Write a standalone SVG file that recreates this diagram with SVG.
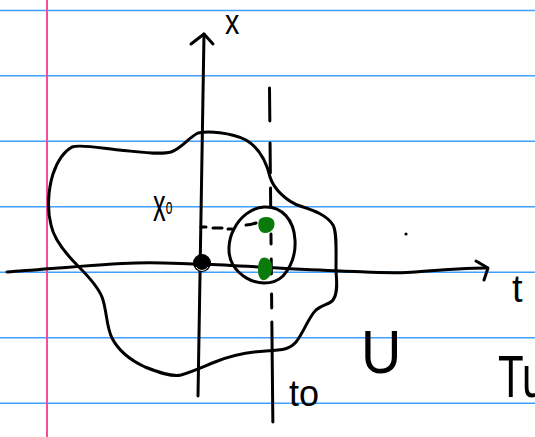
<svg xmlns="http://www.w3.org/2000/svg" width="535" height="437" viewBox="0 0 535 437">
<style>
.rule{stroke:#3fa0ff;stroke-width:1.6}
.ink{fill:none;stroke:#000;stroke-width:3;stroke-linecap:round;stroke-linejoin:round}
.lbl{font-family:"Liberation Sans","DejaVu Sans",sans-serif;fill:#000}
.green{fill:#0a7a0a}
</style>
<rect width="535" height="437" fill="#fff"/>
<g id="paper">
<line class="rule" x1="0" y1="10.5" x2="535" y2="10.5"/>
<line class="rule" x1="0" y1="75.8" x2="535" y2="75.8"/>
<line class="rule" x1="0" y1="141.2" x2="535" y2="141.2"/>
<line class="rule" x1="0" y1="206.8" x2="535" y2="206.8"/>
<line class="rule" x1="0" y1="272.3" x2="535" y2="272.3"/>
<line class="rule" x1="0" y1="337.8" x2="535" y2="337.8"/>
<line class="rule" x1="0" y1="403.3" x2="535" y2="403.3"/>
<line x1="47" y1="0" x2="47" y2="437" stroke="#f0509a" stroke-width="2"/>
</g>
<g id="region-U">
<path class="ink" d="M198,133 C208,131 230,132 246,140 C258,147 266,160 270,177 C274,190 288,202 300,206 C312,210 326,214 333,225 C337,232 336,250 336,270 C336,277 339,292 333,300 C329,305 323,304 316,310 C308,318 304,332 296,342 C290,349 284,350 266,351 C248,352 230,356 215,362 C205,366 192,372 181,375 C172,377 160,373 145,367 C130,360 118,350 112,338 C106,326 107,310 102,297 C98,287 90,278 78,266 C66,254 54,240 51,225 C47,210 48,190 53,174 C57,162 63,152 72,147 C80,144 100,148 119,150 C140,152 160,155 171,152 C182,148 188,138 198,133 Z"/>
</g>
<g id="neighbourhood">
<path class="ink" d="M264,207 C282,206 294,220 295,240 C296,256 290,268 283,276 C278,281 272,283 264,283 C252,283 240,276 233,265 C227,255 228,240 234,229 C240,217 251,208 264,207 Z"/>
</g>
<g id="connectors">
<path class="ink" d="M7,272 C50,269 100,264 136,263 C160,262 185,264 201,264 C250,266 300,270 341,271 C370,272 395,274 415,272 C440,270 465,268 486,268"/>
<path class="ink" d="M476,261 L488,268 L484,280"/>
<path class="ink" d="M198,396 L204,34"/>
<path class="ink" d="M191,44 L204,34 L213,44"/>
<path class="ink" d="M269.5,88 L273,437" stroke-width="2.2" stroke-dasharray="33,22,30,15,18,28,10,15,15,20,14,14,100"/>
<path class="ink" d="M201,227 L206,227 M213,228 L222,228 M228,229 L232,229 M246,225 C250,225 253,224 256,223" stroke-width="2"/>
</g>
<g id="points">
<circle cx="202" cy="263" r="9" fill="#000"/>
<path d="M196,267 A7,7 0 0 0 208,267" fill="none" stroke="#fff" stroke-width="1"/>
<path class="green" d="M259,220 C262,216 272,216 274,221 C276,227 272,233 265,233 C259,233 257,226 259,220 Z"/>
<path class="green" d="M262,258 C266,256 271,260 272,265 C273,272 270,278 265,280 C260,281 258,276 258,270 C258,264 259,260 262,258 Z"/>
<circle cx="406" cy="234" r="1.6" fill="#000"/>
</g>
<g id="labels">
<text class="lbl" x="0" y="0" font-size="36" transform="translate(225,34) scale(0.8,1)">x</text>
<text class="lbl" x="0" y="0" font-size="38" transform="translate(512,302)">t</text>
<text class="lbl" x="0" y="0" font-size="46" transform="translate(153,221) scale(0.55,1)">x<tspan font-size="22" dy="-7">o</tspan></text>
<text class="lbl" x="0" y="0" font-size="36" transform="translate(289,406)">to</text>
<text class="lbl" x="0" y="0" font-size="62" transform="translate(361,373) scale(0.9,1)">U</text>
<text class="lbl" x="0" y="0" font-size="60" transform="translate(498,397) scale(0.7,1)">Tu</text>
</g>
</svg>
